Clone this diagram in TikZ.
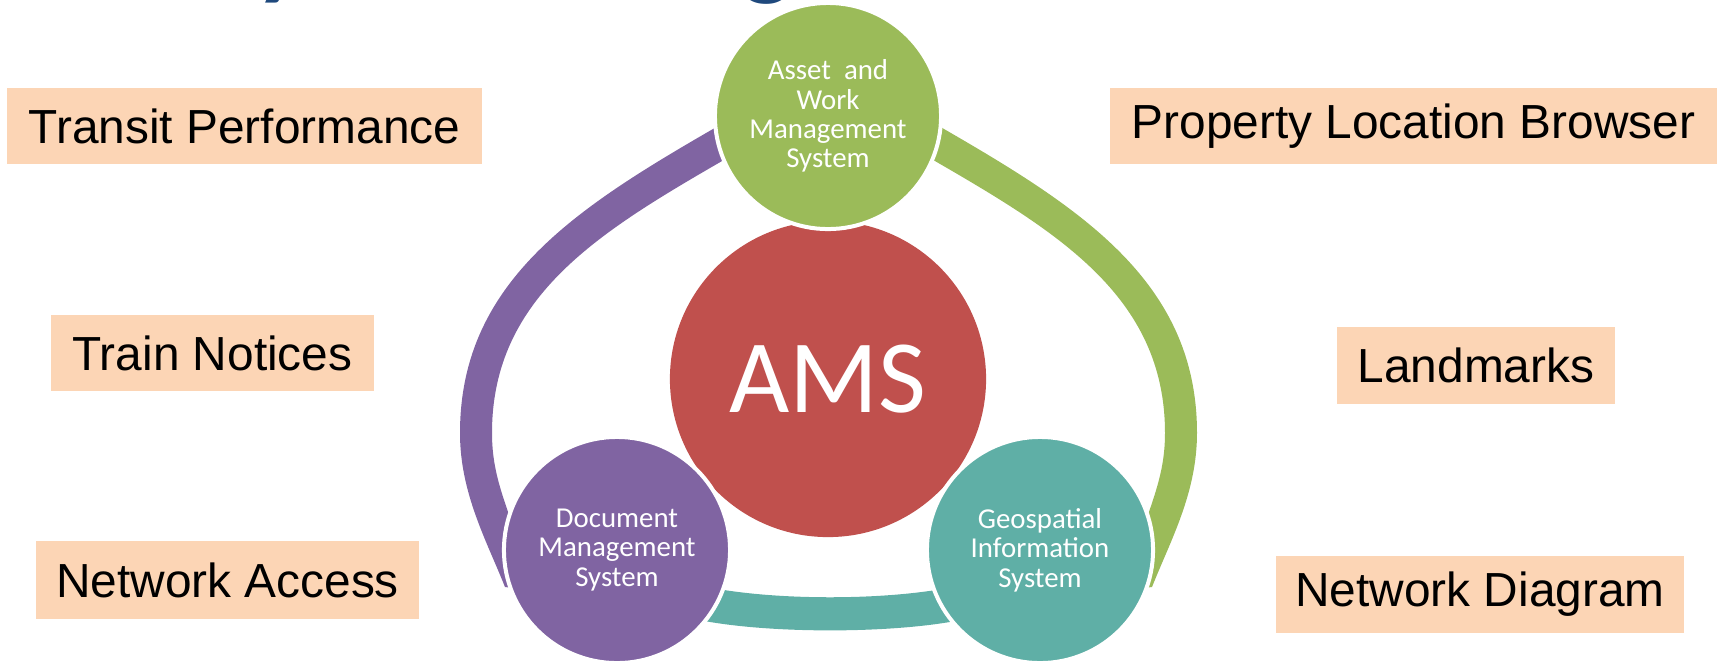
\documentclass[tikz,border=0pt]{standalone}
\usepackage{fontspec}
\setmainfont{Liberation Sans}
\newfontfamily\calib{Carlito}
\usetikzlibrary{backgrounds}
\definecolor{peach}{HTML}{FCD5B5}
\definecolor{cgreen}{HTML}{9BBB59}
\definecolor{cred}{HTML}{C0504D}
\definecolor{cpurple}{HTML}{8064A2}
\definecolor{cteal}{HTML}{5FAFA6}
\definecolor{ctitle}{HTML}{1F497D}
\begin{document}
\begin{tikzpicture}[x=0.01cm,y=-0.01cm,
  lbl/.style={rectangle, fill=peach, inner sep=0pt, minimum height=0.76cm,
    text=black, font=\fontsize{13.6}{16}\selectfont},
  sat/.style={circle, draw=white, line width=0.04cm, minimum size=2.26cm,
    inner sep=0pt, text=white, align=center,
    font=\calib\fontsize{8.2}{8.35}\selectfont},
  hub/.style={circle, fill=cred, inner sep=0pt, minimum size=3.16cm,
    text=white, font=\calib\fontsize{29.6}{30}\selectfont},
  titlefrag/.style={inner sep=0pt, text=ctitle,
    font=\calib\bfseries\fontsize{30}{32}\selectfont}]

\useasboundingbox (0,0) rectangle (1717,660);

% cut-off title fragments
\begin{scope}
  \clip (0,0) rectangle (1717,660);
  \node[titlefrag, anchor=base] (ty) at (280,-14) {y};
  \node[titlefrag, anchor=base] (tg) at (768,-14) {g};
\end{scope}

% labels
\node[lbl, minimum width=4.75cm] (tp) at (244.5,126) {Transit Performance};
\node[lbl, minimum width=3.22cm] (tn) at (212.5,353) {Train Notices};
\node[lbl, minimum width=3.83cm, minimum height=0.78cm] (na) at (227.5,580) {Network Access};
\node[lbl, minimum width=6.07cm] (plb) at (1413.5,126) {Property Location Browser};
\node[lbl, minimum width=2.78cm] (lm) at (1476,365.5) {Landmarks};
\node[lbl, minimum width=4.08cm] (nd) at (1480,594.5) {Network Diagram};

% hub and satellites
\node[hub] (ams) at (828,379) {AMS};
\node[sat, fill=cgreen] (aw) at (828,116) {Asset\ \ and\\Work\\Management\\System};
\node[sat, fill=cpurple] (dm) at (617,550) {Document\\Management\\System};
\node[sat, fill=cteal] (gis) at (1040,550) {Geospatial\\Information\\System};

% connecting arcs (behind the circles)
\begin{pgfonlayer}{background}
\fill[cpurple] (aw.center) -- (745,108) -- (713,129)
   .. controls (574.4,209) and (460,283) .. (460,433)
   .. controls (460,493) and (486.5,540.5) .. (505,587)
   -- (530,590) -- (dm.center) -- (516,536)
   .. controls (504,498) and (492,473) .. (492,433)
   .. controls (492,295) and (601.7,230.5) .. (729,157)
   -- (755,142) -- cycle;
\fill[cgreen] (aw.center) -- (912,108) -- (944,129)
   .. controls (1082.6,209) and (1197,283) .. (1197,433)
   .. controls (1197,493) and (1170.5,540.5) .. (1152,587)
   -- (1127,590) -- (gis.center) -- (1141,536)
   .. controls (1153,498) and (1165,473) .. (1165,433)
   .. controls (1165,295) and (1055.3,230.5) .. (928,157)
   -- (902,142) -- cycle;
\fill[cteal] (dm.center) -- (690,583)
   .. controls (760,602) and (900,602) .. (970,583)
   -- (gis.center) -- (970,618)
   .. controls (900,634.5) and (760,634.5) .. (690,618) -- cycle;
\end{pgfonlayer}
\end{tikzpicture}
\end{document}
